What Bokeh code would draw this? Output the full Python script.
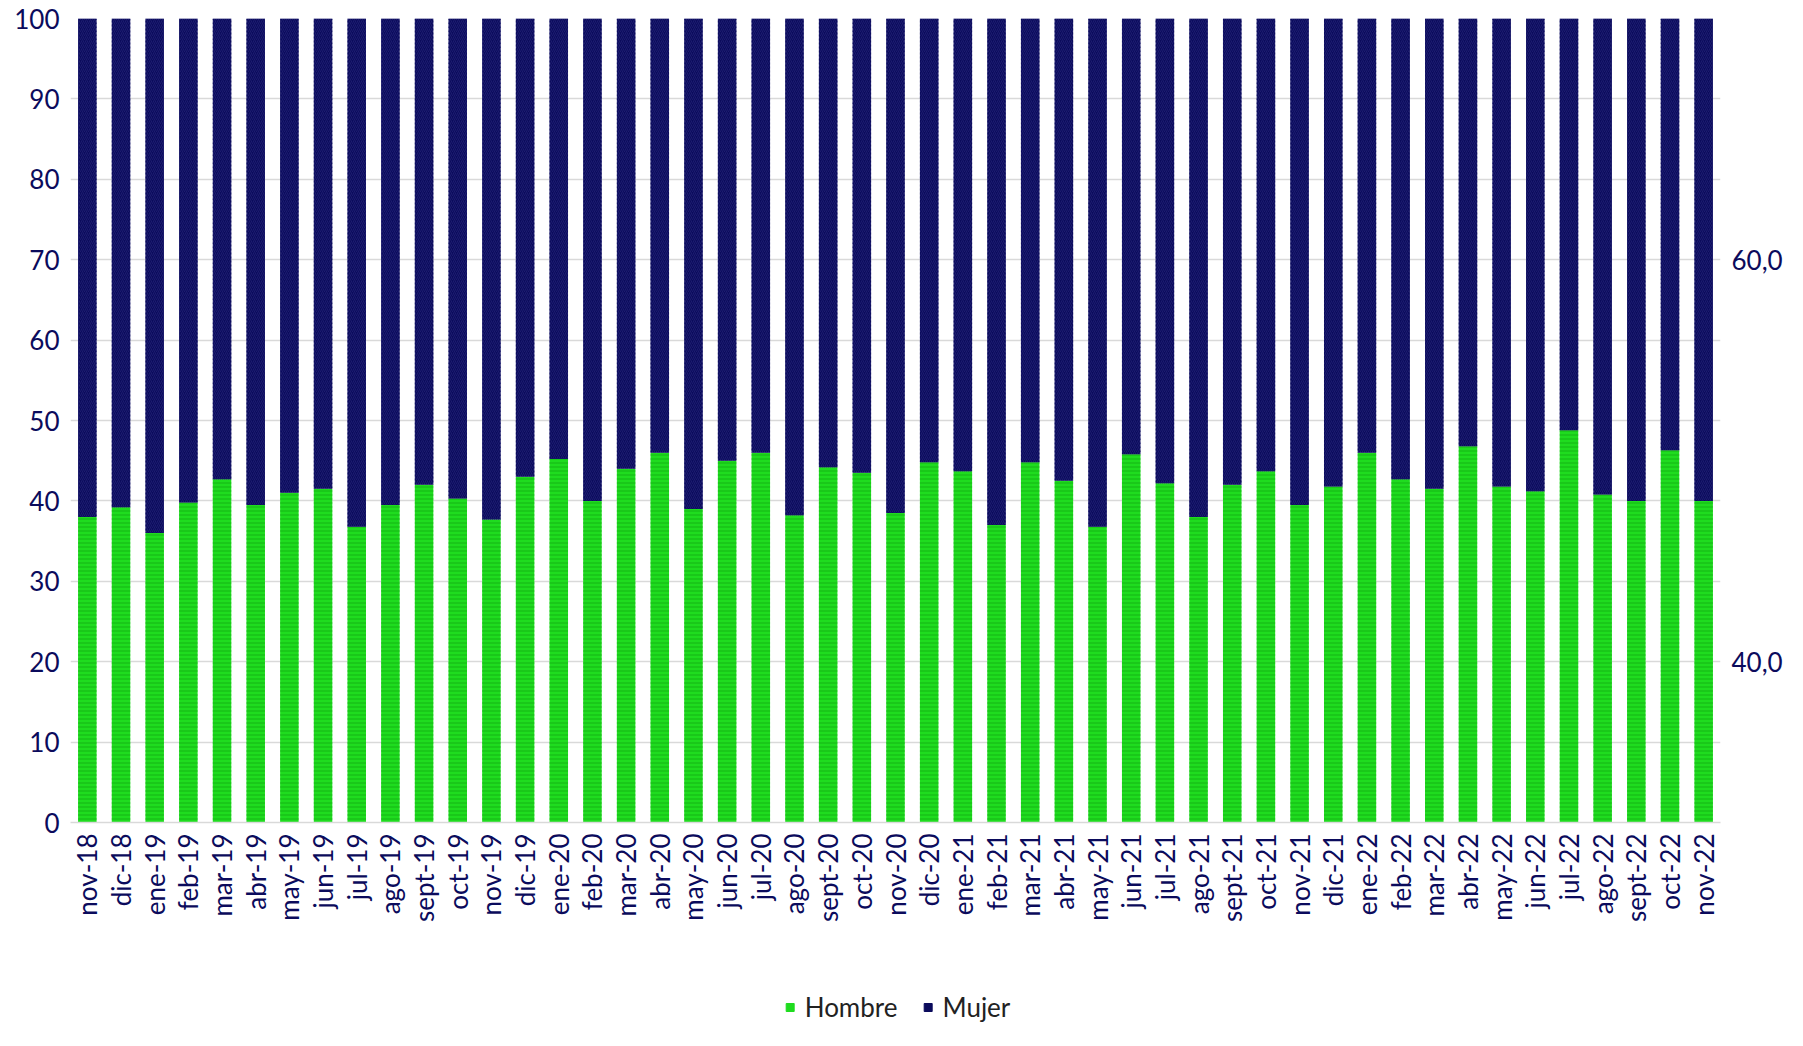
import math
from bokeh.plotting import figure
from bokeh.layouts import column
from bokeh.models import Range1d, LinearAxis, FixedTicker, Legend, LegendItem
from bokeh.embed import file_html
from bokeh.resources import INLINE

months = ["nov-18","dic-18","ene-19","feb-19","mar-19","abr-19","may-19","jun-19","jul-19","ago-19","sept-19","oct-19",
          "nov-19","dic-19","ene-20","feb-20","mar-20","abr-20","may-20","jun-20","jul-20","ago-20","sept-20","oct-20",
          "nov-20","dic-20","ene-21","feb-21","mar-21","abr-21","may-21","jun-21","jul-21","ago-21","sept-21","oct-21",
          "nov-21","dic-21","ene-22","feb-22","mar-22","abr-22","may-22","jun-22","jul-22","ago-22","sept-22","oct-22","nov-22"]
hombre = [38,39.2,36,39.8,42.7,39.5,41,41.5,36.8,39.5,42,40.3,
          37.7,43,45.2,40,44,46,39,45,46,38.2,44.2,43.5,
          38.5,44.8,43.7,37,44.8,42.5,36.8,45.8,42.2,38,42,43.7,
          39.5,41.8,46,42.7,41.5,46.8,41.8,41.2,48.8,40.8,40,46.3,40]
mujer = [round(100 - h, 1) for h in hombre]
series = ["Hombre", "Mujer"]

GREEN = "#1fdc1f"
NAVY = "#0b0b5c"
FONT = "Lato"

p = figure(x_range=months, y_range=Range1d(0, 100), width=1785, height=925,
           output_backend="svg", toolbar_location=None,
           min_border_left=70, min_border_right=10, min_border_top=18, min_border_bottom=0)
data = dict(m=months, Hombre=hombre, Mujer=mujer)
r = p.vbar_stack(series, x="m", width=0.55, source=data,
                 color=[GREEN, NAVY], line_color=None,
                 hatch_pattern=["-", "/"], hatch_color=["#13b513", "#1c1c70"],
                 hatch_scale=4, hatch_weight=1)

p.outline_line_color = None
p.xgrid.grid_line_color = None
p.ygrid.grid_line_color = "#d9d9d9"
p.ygrid.grid_line_width = 1.5
p.yaxis.ticker = FixedTicker(ticks=list(range(0, 101, 10)))
for ax in [p.yaxis[0], p.xaxis[0]]:
    ax.axis_line_color = None if ax is p.yaxis[0] else "#d9d9d9"
    ax.major_tick_line_color = None
    ax.minor_tick_line_color = None
    ax.major_label_text_font = FONT
    ax.major_label_text_font_size = "26px"
    ax.major_label_text_color = NAVY
p.xaxis.major_label_orientation = math.pi / 2
p.xaxis.axis_line_width = 1.5

ra = LinearAxis(ticker=FixedTicker(ticks=[20, 70]),
                major_label_overrides={20: "40,0", 70: "60,0"})
ra.axis_line_color = None
ra.major_tick_line_color = None
ra.minor_tick_line_color = None
ra.major_label_text_font = FONT
ra.major_label_text_font_size = "26px"
ra.major_label_text_color = NAVY
p.add_layout(ra, "right")

lf = figure(width=1785, height=104, output_backend="svg", toolbar_location=None,
            x_range=Range1d(0, 1), y_range=Range1d(0, 1), min_border=0)
lf.axis.visible = False
lf.grid.visible = False
lf.outline_line_color = None
rs = [lf.scatter([-5], [-5], marker="square", color=c, size=20) for c in [GREEN, NAVY]]
legend = Legend(items=[LegendItem(label=s, renderers=[g]) for s, g in zip(series, rs)],
                orientation="horizontal", location="bottom_center",
                label_text_font=FONT, label_text_font_size="26px",
                label_text_color="#222222", glyph_width=20, glyph_height=20,
                spacing=20, border_line_color=None, padding=4, margin=6)
lf.add_layout(legend, "center")

open("out.html", "w").write(file_html(column(p, lf, spacing=0), INLINE))
